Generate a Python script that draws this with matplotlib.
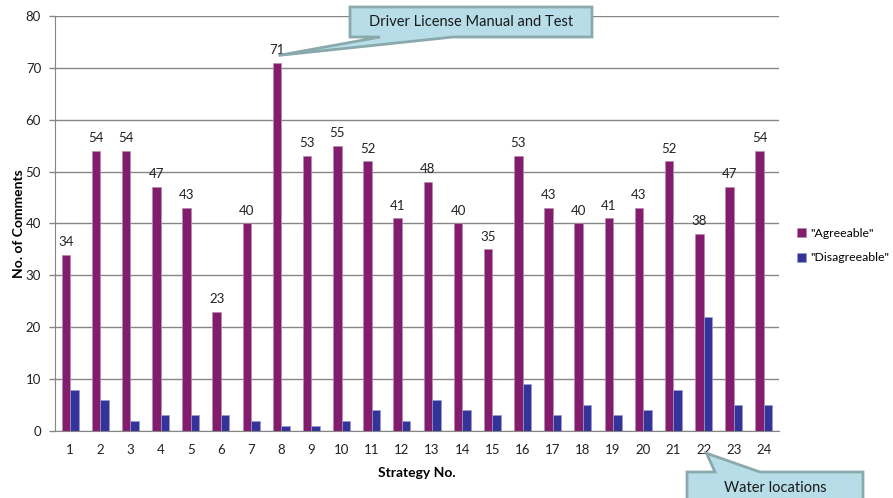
import numpy as np
import matplotlib.pyplot as plt
from matplotlib.patches import Polygon

plt.rcParams['font.family'] = ['Lato', 'DejaVu Sans']

# dati
strategie = list(range(1, 25))
favorevoli = [34, 54, 54, 47, 43, 23, 40, 71, 53, 55, 52, 41, 48, 40, 35, 53, 43, 40, 41, 43, 52, 38, 47, 54]
contrari = [8, 6, 2, 3, 3, 3, 2, 1, 1, 2, 4, 2, 6, 4, 3, 9, 3, 5, 3, 4, 8, 22, 5, 5]
yticks = list(range(0, 81, 10))

W, H = 893, 498
fig = plt.figure(figsize=(W / 100, H / 100), dpi=100)
ax = fig.add_axes([55 / W, 1 - 431 / H, (779 - 55) / W, (431 - 16) / H])

x = np.arange(len(strategie))
w = 0.28
viola = '#841C6E'
blu = '#333399'
b1 = ax.bar(x - w / 2, favorevoli, w, color=viola, edgecolor='#B58AAE', linewidth=0.5, label='"Agreeable"', zorder=3)
b2 = ax.bar(x + w / 2, contrari, w, color=blu, edgecolor='#9A9AD0', linewidth=0.5, label='"Disagreeable"', zorder=3)

for xi, v in zip(x, favorevoli):
    ax.text(xi - w / 2, v + 1.3, str(v), ha='center', va='bottom', fontsize=9.5, color='#222222')

ax.set_xlim(-0.5, len(strategie) - 0.5)
ax.set_ylim(0, 80)
ax.set_xticks(x)
ax.set_xticklabels([str(s) for s in strategie])
ax.set_yticks(yticks)
ax.tick_params(axis='x', length=0, labelsize=9.5, pad=9, colors='#222222')
ax.tick_params(axis='y', length=4, width=1, color='#868686', labelsize=9.5, pad=6, labelcolor='#222222')
ax.grid(axis='y', color='#868686', linewidth=1, zorder=0)
for s in ['top', 'right']:
    ax.spines[s].set_visible(False)
for s in ['left', 'bottom']:
    ax.spines[s].set_color('#868686')
ax.set_axisbelow(True)

ax.set_ylabel('No. of Comments', fontsize=10, fontweight='bold')
ax.yaxis.set_label_coords((25 - 55) / (779 - 55), 0.5)
ax.set_xlabel('Strategy No.', fontsize=10, fontweight='bold', labelpad=8)

fig.legend(handles=[b1, b2], loc='upper left', bbox_to_anchor=(797 / W, 1 - 228 / H),
           frameon=False, fontsize=8.8, handlelength=0.75, handleheight=0.75,
           handletextpad=0.35, labelspacing=1.1, borderpad=0, borderaxespad=0)


# fumetti con punta verso la barra
def fumetto(box, base, tip_data, testo, tx, ty):
    tip = ax.transData.transform(tip_data)
    x0, y0, x1, y1 = box  # pixel, y dall'alto
    bx0, bx1, by = base
    px = lambda a, b: (a / W, 1 - b / H)
    tipf = tuple(fig.transFigure.inverted().transform(tip))
    if by == y1:
        pts = [px(x0, y0), px(x1, y0), px(x1, y1), px(bx1, y1), tipf, px(bx0, y1), px(x0, y1)]
    else:
        pts = [px(x0, y0), px(bx0, y0), tipf, px(bx1, y0), px(x1, y0), px(x1, y1), px(x0, y1)]
    poly = Polygon(pts, closed=True, transform=fig.transFigure, facecolor='#B7DEE8',
                   edgecolor='#8AA9AC', linewidth=2, clip_on=False, zorder=5)
    fig.patches.append(poly)
    fig.text(tx / W, 1 - ty / H, testo, ha='center', va='center', fontsize=10.5, color='#1a1a1a', zorder=6)


fumetto((350, 7, 592, 37), (380, 453, 37), (7 - w / 2 + 0.05, 72.4), 'Driver License Manual and Test', 471, 22)
fumetto((687, 472, 863, 515), (715, 760, 472), (21 + 0.1, -4.3), 'Water locations', 775, 488)

fig.savefig('out.png', dpi=100)
